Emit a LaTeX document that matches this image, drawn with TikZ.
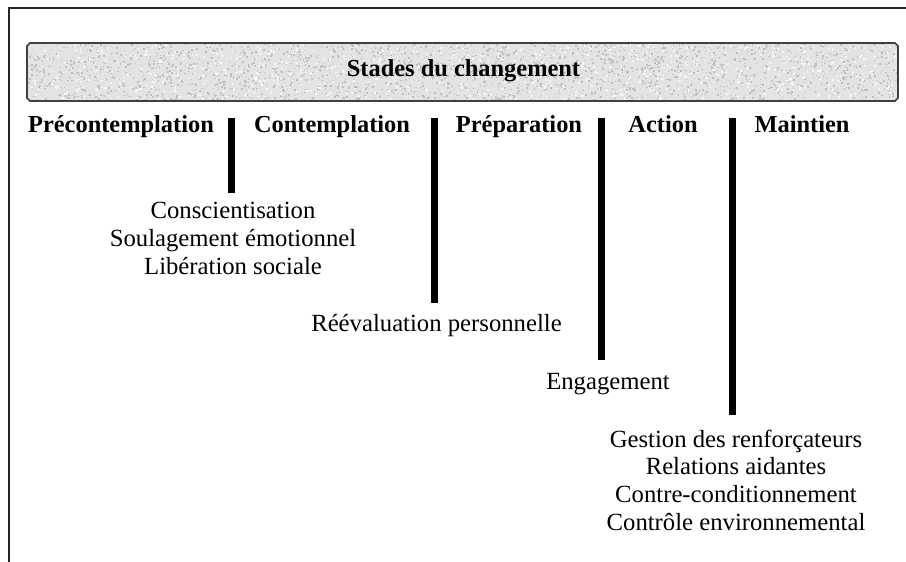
\documentclass[tikz,border=0pt]{standalone}
\usepackage{fontspec}
\setmainfont{Liberation Serif}
\begin{document}
\begin{tikzpicture}[x=1bp,y=-1bp,
  stage/.style={font=\fontsize{24.5}{28}\selectfont\bfseries, inner sep=0pt, anchor=base},
  proc/.style={font=\fontsize{24.8}{27.7}\selectfont, inner sep=0pt, anchor=base, align=center},
  bar/.style={line width=7bp, black},
  frameline/.style={line width=2bp, black!85}]
\useasboundingbox (0,0) rectangle (906,562);
% outer frame (left and top only visible)
\draw[frameline] (9,562) -- (9,8) -- (906,8);
% banner
\fill[gray!22] (30,43) -- (895,43) -- (898,46) -- (898,98) -- (895,101) -- (30,101) -- (27,98) -- (27,46) -- cycle;
\begin{scope}
\clip (28,44) rectangle (897,100);
\pgfmathsetseed{7}
\foreach \i in {1,...,2600}{
  \pgfmathsetmacro\px{27+871*rnd}
  \pgfmathsetmacro\py{43+58*rnd}
  \pgfmathsetmacro\sz{0.7+1.4*rnd}
  \fill[gray!50] (\px,\py) rectangle ++(\sz,\sz);
}
\foreach \i in {1,...,1200}{
  \pgfmathsetmacro\px{27+871*rnd}
  \pgfmathsetmacro\py{43+58*rnd}
  \pgfmathsetmacro\sz{0.8+1.6*rnd}
  \fill[white!92!gray] (\px,\py) rectangle ++(\sz,\sz);
}
\end{scope}
\draw[line width=1.6bp, black!75] (30,43) -- (895,43) -- (898,46) -- (898,98) -- (895,101) -- (30,101) -- (27,98) -- (27,46) -- cycle;
\node[stage] (title) at (463.5,77) {Stades du changement};
% stage headers
\node[stage] (pre) at (121,133) {Précontemplation};
\node[stage] (con) at (332,133) {Contemplation};
\node[stage] (prep) at (519,133) {Préparation};
\node[stage] (act) at (663,133) {Action};
\node[stage] (main) at (802,133) {Maintien};
% processes (anchor base = last line's baseline)
\node[proc, font=\fontsize{24.8}{28.5}\selectfont] (p1) at (233,275) {Conscientisation\\Soulagement émotionnel\\Libération sociale};
\node[proc] (p2) at (436.5,332) {Réévaluation personnelle};
\node[proc] (p3) at (608,389) {Engagement};
\node[proc] (p4) at (736,530) {Gestion des renforçateurs\\Relations aidantes\\Contre-conditionnement\\Contrôle environnemental};
% bars
\coordinate (b1t) at (231,118); \coordinate (b1b) at (231,193);
\coordinate (b2t) at (434,118); \coordinate (b2b) at (434,303);
\coordinate (b3t) at (601,118); \coordinate (b3b) at (601,360);
\coordinate (b4t) at (732,118); \coordinate (b4b) at (732,415);
\draw[bar] (b1t) -- (b1b);
\draw[bar] (b2t) -- (b2b);
\draw[bar] (b3t) -- (b3b);
\draw[bar] (b4t) -- (b4b);
\end{tikzpicture}
\end{document}
